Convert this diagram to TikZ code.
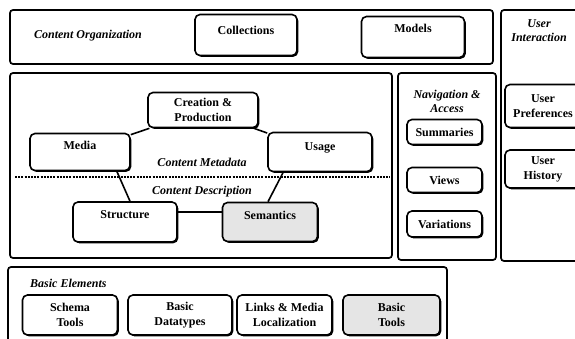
\documentclass[tikz,border=0pt]{standalone}
\usepackage{fontspec}
\setmainfont{Liberation Serif}
\usetikzlibrary{shadows}
\tikzset{
  outer/.style={draw, line width=1.7pt, rounded corners=3pt},
  inbox/.style={draw, line width=1.6pt, rounded corners=5pt, fill=white, align=center,
    font=\fontsize{12}{15}\selectfont\bfseries, inner sep=0pt,
    drop shadow={shadow xshift=1.3pt, shadow yshift=-1.3pt, opacity=1, fill=black}},
  stipple/.style={fill=black!10},
  lbl/.style={font=\fontsize{12}{14}\selectfont\bfseries\itshape, align=center, inner sep=0pt},
  link/.style={line width=1.6pt}
}
\begin{document}
\begin{tikzpicture}[x=1pt,y=-1pt]
\useasboundingbox (0,0) rectangle (575,339);
\clip (0,0) rectangle (575,339);
% outer frames
\draw[outer] (10,10) rectangle (493,64);
\draw[outer] (501,10) rectangle (600,261);
\draw[outer] (10,73) rectangle (392,258);
\draw[outer] (398,73) rectangle (496,260);
\draw[outer] (8,267) rectangle (447,360);
% labels
\node[lbl] (lco) at (88,36) {Content Organization};
\node[lbl] (lui) at (539,31) {User\\Interaction};
\node[lbl] (lnav) at (447,101) {Navigation \&\\Access};
\node[lbl,anchor=west] (lbe) at (30,283) {Basic Elements};
\node[lbl] (lcm) at (202,162) {Content Metadata};
\node[lbl] (lcd) at (202,192) {Content Description};
\draw[line width=1.3pt, dash pattern=on 2pt off 1.2pt] (15,177) -- (390,177);
% content organization
\node[inbox, minimum width=102pt, minimum height=41pt] (coll) at (246,35) {Collections\\[-5pt]};
\node[inbox, minimum width=103pt, minimum height=41pt] (models) at (413,37) {Models\\[3pt]};
% content metadata / description
\node[inbox, minimum width=110pt, minimum height=35pt] (creation) at (203,110) {Creation \&\\Production};
\node[inbox, minimum width=100pt, minimum height=37pt] (media) at (80,152) {Media\\[-1pt]};
\node[inbox, minimum width=104pt, minimum height=39pt] (usage) at (320,152) {Usage\\[-5pt]};
\node[inbox, minimum width=104pt, minimum height=40pt] (structure) at (125,222) {Structure\\[-1pt]};
\node[inbox, stipple, minimum width=95pt, minimum height=39pt] (semantics) at (270,222) {Semantics\\[-1pt]};
% navigation
\node[inbox, minimum width=75pt, minimum height=25pt] (summ) at (444.5,132) {Summaries};
\node[inbox, minimum width=75pt, minimum height=25pt] (views) at (444.5,180) {Views};
\node[inbox, minimum width=75pt, minimum height=26pt] (var) at (444.5,224) {Variations};
% user interaction
\node[inbox, minimum width=76pt, minimum height=43pt] (pref) at (543,106) {User\\Preferences};
\node[inbox, minimum width=76pt, minimum height=38pt] (hist) at (543,169) {User\\History};
% basic elements
\node[inbox, minimum width=95pt, minimum height=40pt] (schema) at (70,315) {Schema\\Tools};
\node[inbox, minimum width=104pt, minimum height=40pt] (datatypes) at (180,315) {Basic\\Datatypes};
\node[inbox, minimum width=95pt, minimum height=40pt] (links) at (284.5,315) {Links \& Media\\Localization};
\node[inbox, stipple, minimum width=97pt, minimum height=40pt] (btools) at (391.5,315) {Basic\\Tools};
% connectors
\draw[link] (media) -- (creation);
\draw[link] (creation) -- (usage);
\draw[link] ([xshift=-14pt]media.south east) -- ([xshift=5pt]structure.north);
\draw[link] ([xshift=16pt]usage.south west) -- ([xshift=-2pt]semantics.north);
\draw[link] ([yshift=10pt]structure.east) -- ([yshift=10pt]semantics.west);
\end{tikzpicture}
\end{document}
